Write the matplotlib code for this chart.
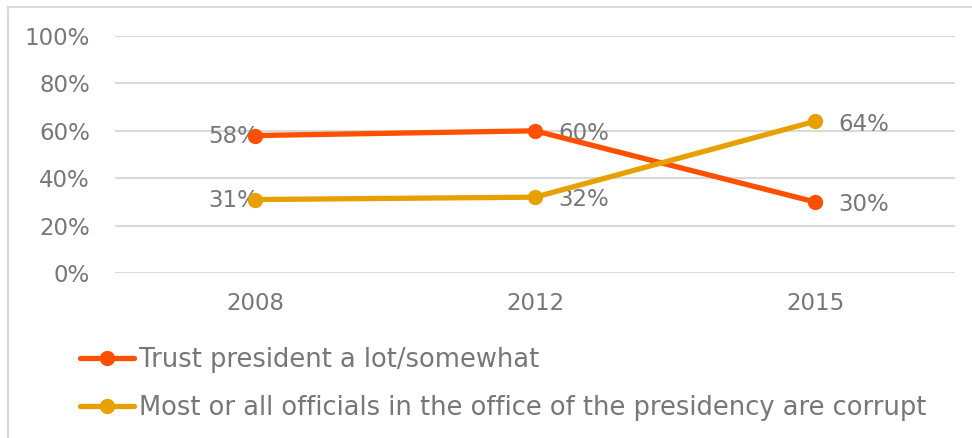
import matplotlib.pyplot as plt
from matplotlib.lines import Line2D

# survey waves and shares (%)
years = ['2008', '2012', '2015']
trust = [58, 60, 30]
corrupt = [31, 32, 64]
trust_label = 'Trust president a lot/somewhat'
corrupt_label = 'Most or all officials in the office of the presidency are corrupt'

orange = '#FF5000'
gold = '#E8A000'
grey = '#777777'
grid = '#D9D9D9'

plt.rcParams['font.family'] = ['DejaVu Sans']

fig = plt.figure(figsize=(9.72, 4.38), dpi=100)
ax = fig.add_axes([115 / 972, 1 - 273 / 438, 840 / 972, 237 / 438])

x = range(len(years))
ax.plot(x, [v / 100 for v in trust], color=orange, lw=3.8, marker='o', ms=10,
        solid_capstyle='round', zorder=3)
ax.plot(x, [v / 100 for v in corrupt], color=gold, lw=3.8, marker='o', ms=10,
        solid_capstyle='round', zorder=3)

# data labels: first point on the left, the rest to the right
for series in (trust, corrupt):
    for i, v in enumerate(series):
        if i == 0:
            ax.annotate(f'{v}%', (i, v / 100), xytext=(3, -1), textcoords='offset points',
                        ha='right', va='center', fontsize=16.5, color=grey, zorder=2)
        else:
            ax.annotate(f'{v}%', (i, v / 100), xytext=(17, -2), textcoords='offset points',
                        ha='left', va='center', fontsize=16.5, color=grey, zorder=2)

ax.set_xlim(-0.5, 2.5)
ax.set_ylim(0, 1)
ax.set_xticks(list(x))
ax.set_xticklabels(years)
ax.set_yticks([0, 0.2, 0.4, 0.6, 0.8, 1.0])
ax.set_yticklabels(['0%', '20%', '40%', '60%', '80%', '100%'])
ax.tick_params(length=0, labelsize=16.5, colors=grey)
ax.tick_params(axis='y', pad=18)
ax.tick_params(axis='x', pad=14)
ax.grid(axis='y', color=grid, lw=1.5)
ax.set_axisbelow(True)
for s in ax.spines.values():
    s.set_visible(False)

handles = [Line2D([], [], color=orange, lw=3.8, marker='o', ms=10, solid_capstyle='round'),
           Line2D([], [], color=gold, lw=3.8, marker='o', ms=10, solid_capstyle='round')]
fig.legend(handles, [trust_label, corrupt_label], loc='upper left',
           bbox_to_anchor=(57 / 972, 1 - 324 / 438), frameon=False, fontsize=18.5,
           labelcolor=grey, handlelength=2.1, handletextpad=0.2, labelspacing=0.85)

# outer frame edges
fig.add_artist(Line2D([8 / 972, 8 / 972], [0, 1 - 7 / 438], color=grid, lw=1.5))
fig.add_artist(Line2D([8 / 972, 1], [1 - 7 / 438, 1 - 7 / 438], color=grid, lw=1.5))

fig.savefig('out.png', dpi=100)
